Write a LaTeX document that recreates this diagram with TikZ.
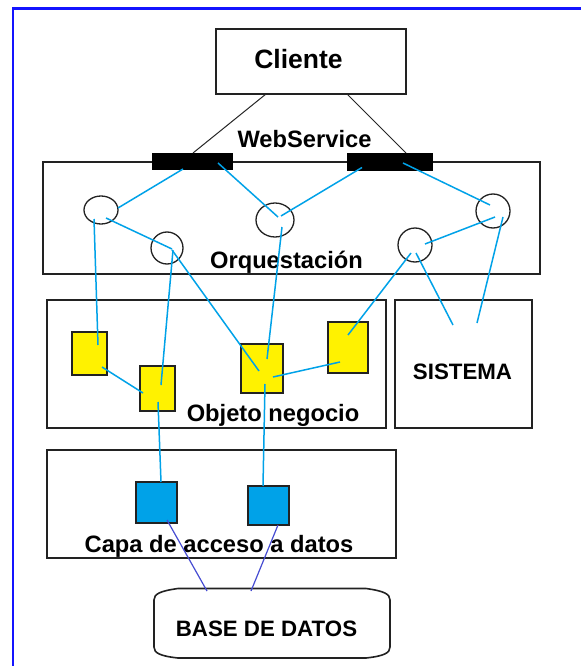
\documentclass[tikz,border=0pt]{standalone}
\usepackage{fontspec}
\setmainfont{Liberation Sans}
\usetikzlibrary{calc,shapes.geometric}
\definecolor{framebl}{RGB}{20,20,255}
\definecolor{edge}{RGB}{34,34,34}
\definecolor{wire}{RGB}{0,162,232}
\definecolor{dbwire}{RGB}{70,76,210}
\definecolor{objfill}{RGB}{255,242,0}
\definecolor{dalfill}{RGB}{0,162,232}
\tikzset{
  layer/.style={draw=edge, line width=1.8pt, rectangle, inner sep=0pt, outer sep=0pt},
  port/.style={fill=black, draw=black, line width=0.6pt, rectangle, inner sep=0pt, outer sep=0pt},
  svc/.style={draw=edge, line width=1.3pt, ellipse, inner sep=0pt, outer sep=0pt},
  objbox/.style={draw=edge, line width=1.6pt, fill=objfill, rectangle, inner sep=0pt, outer sep=0pt},
  dalbox/.style={draw=edge, line width=1.6pt, fill=dalfill, rectangle, inner sep=0pt, outer sep=0pt},
  dbarea/.style={rectangle, inner sep=0pt, outer sep=0pt},
  dboutline/.style={draw=edge, line width=1.6pt},
  lbl/.style={anchor=base, inner sep=0pt, font=\bfseries\fontsize{23.7}{28}\selectfont},
  wirel/.style={draw=wire, line width=1.5pt},
  blackl/.style={draw=black!85, line width=1pt},
  dbl/.style={draw=dbwire, line width=1.2pt}
}
\begin{document}
\begin{tikzpicture}[x=1pt,y=-1pt]
\useasboundingbox (0,0) rectangle (581,666);
\fill[white] (0,0) rectangle (581,666);
% outer frame (only top and left edges are in view)
\draw[framebl, line width=2.6pt] (13,666) -- (13,8.5) -- (581,8.5);

% client and web service ports
\node[layer, minimum width=190pt, minimum height=65pt] (cliente) at (311,61.5) {};
\node[lbl, font=\bfseries\fontsize{26.5}{30}\selectfont] (tcliente) at (298.5,69) {Cliente};
\node[lbl] (tws) at (304.5,147) {WebService};

% orchestration layer
\node[layer, minimum width=497pt, minimum height=112pt] (orq) at (291.5,218) {};
\node[lbl] (torq) at (286.5,268) {Orquestación};
\node[port, minimum width=80pt, minimum height=16pt] (bar1) at (192,161) {};
\node[port, minimum width=85pt, minimum height=17pt] (bar2) at (389.5,161.5) {};
\node[svc, minimum width=34pt, minimum height=28pt] (c1) at (101,210) {};
\node[svc, minimum width=32pt, minimum height=32pt] (c2) at (167,248) {};
\node[svc, minimum width=38pt, minimum height=34pt] (c3) at (275,220) {};
\node[svc, minimum width=34pt, minimum height=34pt] (c4) at (415,245) {};
\node[svc, minimum width=34pt, minimum height=34pt] (c5) at (493,211) {};

% business objects and external system
\node[layer, minimum width=339pt, minimum height=128pt] (obj) at (216.5,364) {};
\node[lbl] (tobj) at (273,421) {Objeto negocio};
\node[layer, minimum width=137pt, minimum height=128pt] (sis) at (463.5,364) {};
\node[lbl, font=\bfseries\fontsize{22.3}{26}\selectfont] (tsis) at (462.5,379) {SISTEMA};
\node[objbox, minimum width=35pt, minimum height=43pt] (y1) at (89.5,353.5) {};
\node[objbox, minimum width=35pt, minimum height=45pt] (y2) at (157.5,388.5) {};
\node[objbox, minimum width=42pt, minimum height=49pt] (y3) at (262,368.5) {};
\node[objbox, minimum width=40pt, minimum height=51pt] (y4) at (348,347.5) {};

% data access layer
\node[layer, minimum width=349pt, minimum height=108pt] (capa) at (221.5,504) {};
\node[dalbox, minimum width=41pt, minimum height=41pt] (b1) at (156.5,502.5) {};
\node[dalbox, minimum width=41pt, minimum height=39pt] (b2) at (268.5,505.5) {};
\node[lbl] (tcapa) at (219,552) {Capa de acceso a datos};

% database: a box whose top and bottom edges bow outwards
\node[dbarea, minimum width=236pt, minimum height=70pt] (db) at (272,623) {};
\begin{scope}[shift={(db.north west)}]
  \draw[dboutline] (0,12) .. controls (0,6) and (6,3) .. (24,0.5) -- (212,0.5)
    .. controls (230,3) and (236,6) .. (236,12) -- (236,59)
    .. controls (236,65) and (230,68) .. (212,70) -- (24,70)
    .. controls (6,68) and (0,65) .. (0,59) -- cycle;
\end{scope}
\node[lbl, font=\bfseries\fontsize{22.3}{26}\selectfont] (tdb) at (266.5,636) {BASE DE DATOS};

% client to web service ports
\draw[blackl] ($(cliente.south west)+(50,0)$) -- ($(bar1.north)+(1,0)$);
\draw[blackl] ($(cliente.south west)+(131,0)$) -- ($(bar2.north west)+(59,0)$);

% ports to orchestrated services
\draw[wirel] ($(bar1.center)+(-9,8)$) -- ($(c1.center)+(17,-2)$);
\draw[wirel] ($(bar1.center)+(26,2)$) -- ($(c3.center)+(3,-3)$);
\draw[wirel] ($(bar2.center)+(-27.5,6)$) -- ($(c3.center)+(6,-4)$);
\draw[wirel] ($(bar2.center)+(13.5,1.5)$) -- ($(c5.center)+(-3,-6)$);
\draw[wirel] ($(c1.center)+(5,8)$) -- ($(c2.center)+(5,1)$);
\draw[wirel] ($(c5.center)+(2,6)$) -- ($(c4.center)+(10,-1)$);

% services to business objects and system
\draw[wirel] ($(c1.center)+(-7,9)$) -- ($(y1.center)+(8.5,-8.5)$);
\draw[wirel] ($(c2.center)+(6,2)$) -- ($(y2.center)+(3.5,-3.5)$);
\draw[wirel] ($(c2.center)+(5,2)$) -- ($(y3.center)+(-3,2.5)$);
\draw[wirel] ($(c3.center)+(7,7)$) -- ($(y3.center)+(5,-9.5)$);
\draw[wirel] ($(c4.center)+(-4,8)$) -- ($(y4.center)+(0,-12.5)$);
\draw[wirel] ($(c4.center)+(1,8)$) -- ($(sis.north west)+(58,25)$);
\draw[wirel] ($(c5.center)+(10,6)$) -- ($(sis.north west)+(82,23)$);

% links among business objects
\draw[wirel] ($(y1.center)+(12.5,13.5)$) -- ($(y2.center)+(-14.5,4.5)$);
\draw[wirel] ($(y3.center)+(11,8.5)$) -- ($(y4.center)+(-8,14.5)$);

% business objects to data access
\draw[wirel] ($(y2.center)+(0.5,13.5)$) -- ($(b1.north)+(4.5,0)$);
\draw[wirel] ($(y3.center)+(3,15.5)$) -- ($(b2.north)+(-5.5,0)$);

% data access to database
\draw[dbl] ($(b1.south)+(10.5,-3)$) -- ($(db.north west)+(53,3)$);
\draw[dbl] ($(b2.south)+(9.5,0)$) -- ($(db.north west)+(97,3)$);
\end{tikzpicture}
\end{document}
